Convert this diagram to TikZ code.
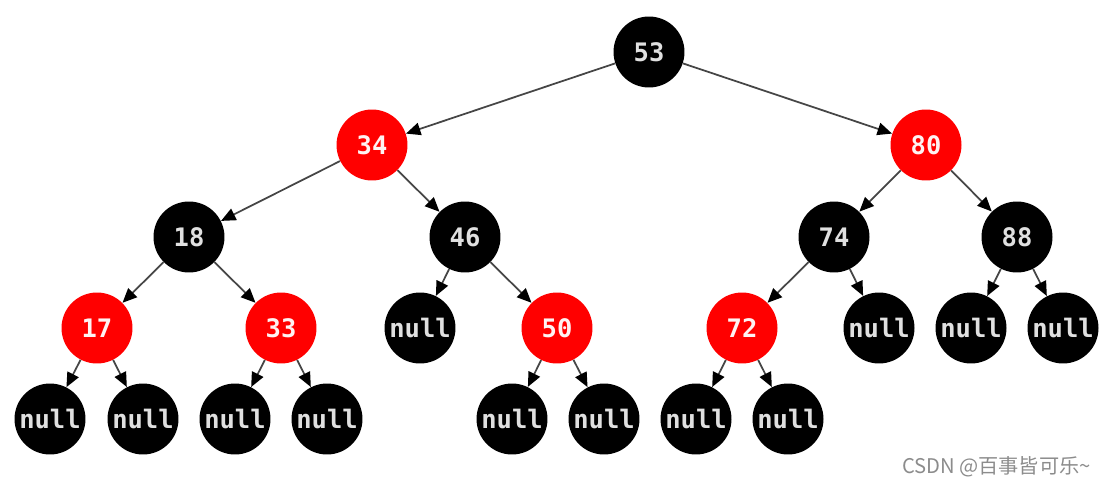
\documentclass[tikz,border=0pt]{standalone}
\usepackage{fontspec}
\setmonofont{DejaVu Sans Mono}
\newfontfamily\wmfont{Noto Sans CJK SC}
\usepackage{tikz}
\usetikzlibrary{arrows.meta}

\definecolor{rbred}{RGB}{255,0,0}
\definecolor{edgegray}{RGB}{70,70,70}

\begin{document}
\begin{tikzpicture}[
    x=0.02cm, y=-0.02cm,
    rbnode/.style={
        circle,
        minimum size=1.42cm,
        inner sep=0pt,
        font=\ttfamily\bfseries\fontsize{14.5}{16}\selectfont
    },
    blacknode/.style={
        rbnode,
        fill=black,
        text=black!12
    },
    rednode/.style={
        rbnode,
        fill=rbred,
        text=white!95!red
    },
    nilnode/.style={
        blacknode
    },
    edge/.style={
        -{Triangle[length=2.9mm, width=2.5mm, color=black]},
        line width=1pt,
        draw=edgegray
    }
]
\useasboundingbox (0,0) rectangle (1106,490);

% Root and first level
\node[blacknode] (n53) at (649,52) {53};
\node[rednode] (n34) at (372,145) {34};
\node[rednode] (n80) at (926,145) {80};

% Second level
\node[blacknode] (n18) at (189,237) {18};
\node[blacknode] (n46) at (465,237) {46};
\node[blacknode] (n74) at (834,237) {74};
\node[blacknode] (n88) at (1017,237) {88};

% Third level
\node[rednode] (n17) at (97,328) {17};
\node[rednode] (n33) at (281,328) {33};
\node[nilnode] (nil1) at (420,328) {null};
\node[rednode] (n50) at (557,328) {50};
\node[rednode] (n72) at (742,328) {72};
\node[nilnode] (nil2) at (879,328) {null};
\node[nilnode] (nil3) at (971,328) {null};
\node[nilnode] (nil4) at (1063,328) {null};

% Leaves
\node[nilnode] (nil5) at (50,419) {null};
\node[nilnode] (nil6) at (143,419) {null};
\node[nilnode] (nil7) at (235,419) {null};
\node[nilnode] (nil8) at (327,419) {null};
\node[nilnode] (nil9) at (512,419) {null};
\node[nilnode] (nil10) at (604,419) {null};
\node[nilnode] (nil11) at (696,419) {null};
\node[nilnode] (nil12) at (788,419) {null};

% Tree edges
\draw[edge] (n53) -- (n34);
\draw[edge] (n53) -- (n80);
\draw[edge] (n34) -- (n18);
\draw[edge] (n34) -- (n46);
\draw[edge] (n80) -- (n74);
\draw[edge] (n80) -- (n88);
\draw[edge] (n18) -- (n17);
\draw[edge] (n18) -- (n33);
\draw[edge] (n46) -- (nil1);
\draw[edge] (n46) -- (n50);
\draw[edge] (n74) -- (n72);
\draw[edge] (n74) -- (nil2);
\draw[edge] (n88) -- (nil3);
\draw[edge] (n88) -- (nil4);
\draw[edge] (n17) -- (nil5);
\draw[edge] (n17) -- (nil6);
\draw[edge] (n33) -- (nil7);
\draw[edge] (n33) -- (nil8);
\draw[edge] (n50) -- (nil9);
\draw[edge] (n50) -- (nil10);
\draw[edge] (n72) -- (nil11);
\draw[edge] (n72) -- (nil12);

% Watermark
\node[text=black!45, font=\wmfont\fontsize{11.5}{13}\selectfont, anchor=east] (mark) at (1097,467) {CSDN @百事皆可乐\textasciitilde};

\end{tikzpicture}
\end{document}
